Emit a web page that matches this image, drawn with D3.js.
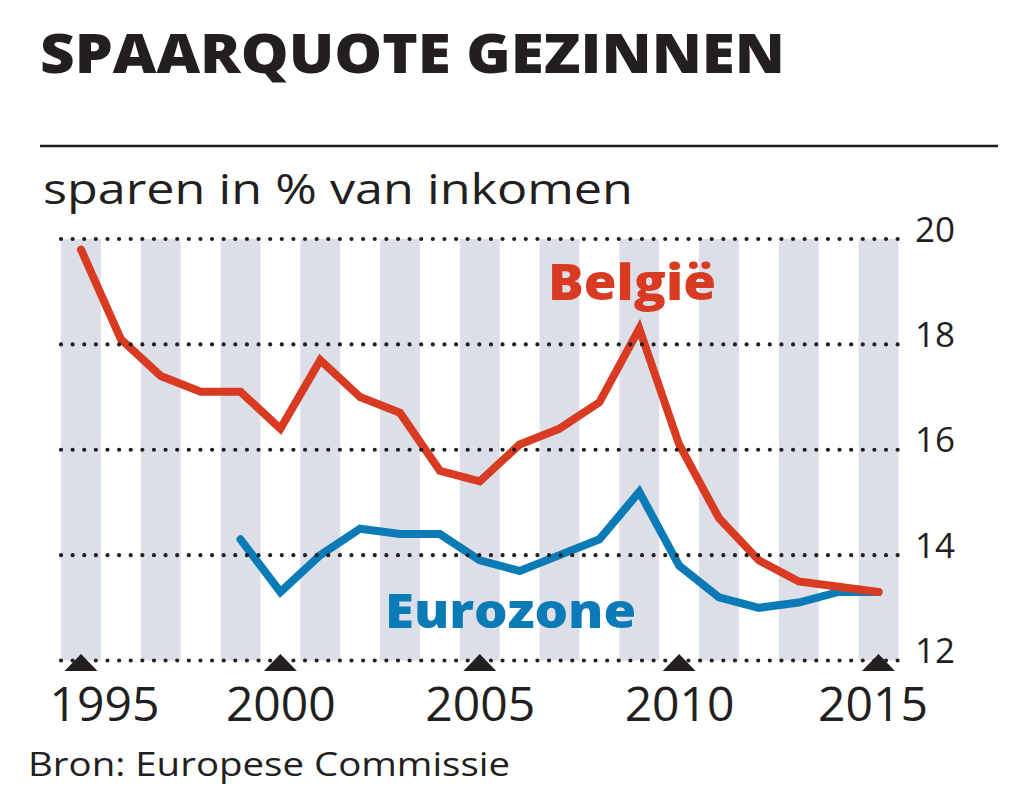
<!DOCTYPE html>
<html>
<head>
<meta charset="utf-8">
<script src="https://cdn.jsdelivr.net/npm/d3@7"></script>
<style>
  html, body { margin: 0; padding: 0; background: #fff; }
  svg { display: block; }
  text { font-family: "Open Sans", Lato, sans-serif; fill: #231f20; }
</style>
</head>
<body>
<svg id="chart" width="1024" height="809"></svg>
<script>
// ---- data ----
const years = d3.range(1995, 2016);
const belgie = [19.8, 18.1, 17.4, 17.1, 17.1, 16.4, 17.7, 17.0, 16.7, 15.6, 15.4, 16.1, 16.4, 16.9, 18.3, 16.1, 14.7, 13.9, 13.5, 13.4, 13.3];
const euroYears = d3.range(1999, 2016);
const eurozone = [14.3, 13.3, 14.0, 14.5, 14.4, 14.4, 13.9, 13.7, 14.0, 14.3, 15.2, 13.8, 13.2, 13.0, 13.1, 13.3, 13.3];
const yTicks = [12, 14, 16, 18, 20];
const xTicks = [1995, 2000, 2005, 2010, 2015];
const stripeYears = d3.range(1995, 2016, 2);
const title = "SPAARQUOTE GEZINNEN";
const subtitle = "sparen in % van inkomen";
const source = "Bron: Europese Commissie";
const labelBE = "België";
const labelEZ = "Eurozone";

// ---- setup ----
const svg = d3.select("#chart");
const x = d3.scaleLinear().domain([1995, 2015]).range([81, 878.5]);
const y = d3.scaleLinear().domain([12, 20]).range([660.5, 239]);
const red = "#d83b22", blue = "#0a7bb7", stripe = "#dcdfe8", ink = "#231f20";

// title
svg.append("text").attr("x", 40).attr("y", 73)
  .attr("font-size", 54).attr("font-weight", 800)
  .attr("textLength", 745).attr("lengthAdjust", "spacingAndGlyphs")
  .text(title);
svg.append("line").attr("x1", 40).attr("x2", 998).attr("y1", 146).attr("y2", 146)
  .attr("stroke", ink).attr("stroke-width", 2.5);
svg.append("text").attr("x", 43).attr("y", 204)
  .attr("font-size", 42)
  .attr("textLength", 590).attr("lengthAdjust", "spacingAndGlyphs")
  .text(subtitle);

// stripes
svg.append("g").selectAll("rect").data(stripeYears).join("rect")
  .attr("x", d => x(d - 0.5)).attr("width", d => x(d + 0.5) - x(d - 0.5))
  .attr("y", y(20)).attr("height", y(12) - y(20))
  .attr("fill", stripe);

// lines
const line = d3.line().x(d => x(d[0])).y(d => y(d[1]));
svg.append("path").datum(euroYears.map((d, i) => [d, eurozone[i]]))
  .attr("d", line).attr("fill", "none").attr("stroke", blue)
  .attr("stroke-width", 8).attr("stroke-linejoin", "miter").attr("stroke-linecap", "round");
svg.append("path").datum(years.map((d, i) => [d, belgie[i]]))
  .attr("d", line).attr("fill", "none").attr("stroke", red)
  .attr("stroke-width", 8).attr("stroke-linejoin", "miter").attr("stroke-linecap", "round");

// dotted gridlines
svg.append("g").selectAll("line").data(yTicks).join("line")
  .attr("x1", 61).attr("x2", 898)
  .attr("y1", d => y(d)).attr("y2", d => y(d))
  .attr("stroke", ink).attr("stroke-width", 4.2)
  .attr("stroke-linecap", "round").attr("stroke-dasharray", "0 11.62");

// y axis labels
const yAxis = svg.append("g").attr("transform", "translate(905,0)")
  .call(d3.axisRight(y).tickValues(yTicks).tickSize(0).tickPadding(10).tickFormat(d3.format("d")));
yAxis.select(".domain").remove();
yAxis.selectAll("text")
  .attr("font-family", "Lato, 'Open Sans', sans-serif")
  .attr("font-size", 35).attr("fill", ink).attr("dy", 2);

// triangles
svg.append("g").selectAll("path").data(xTicks).join("path")
  .attr("d", d => `M${x(d) - 16.5},671 L${x(d)},654 L${x(d) + 16.5},671 Z`)
  .attr("fill", ink);

// x axis labels
const xAxis = svg.append("g").attr("transform", "translate(0,672)")
  .call(d3.axisBottom(x).tickValues(xTicks).tickSize(0).tickPadding(0).tickFormat(d3.format("d")));
xAxis.select(".domain").remove();
xAxis.selectAll("text")
  .attr("font-family", "Lato, 'Open Sans', sans-serif")
  .attr("font-size", 47).attr("fill", ink).attr("dy", 49)
  .attr("textLength", 110).attr("lengthAdjust", "spacingAndGlyphs")
  .attr("dx", (d, i) => i === 0 ? 23 : (i === 4 ? -6 : 0));

// series labels
svg.append("text").attr("x", 548).attr("y", 300)
  .attr("font-size", 50).attr("font-weight", 800).style("fill", red)
  .attr("textLength", 168).attr("lengthAdjust", "spacingAndGlyphs")
  .text(labelBE);
svg.append("text").attr("x", 385).attr("y", 628)
  .attr("font-size", 48).attr("font-weight", 800).style("fill", blue)
  .attr("textLength", 251).attr("lengthAdjust", "spacingAndGlyphs")
  .text(labelEZ);

// source
svg.append("text").attr("x", 28).attr("y", 776)
  .attr("font-size", 32)
  .attr("textLength", 482).attr("lengthAdjust", "spacingAndGlyphs")
  .text(source);
</script>
</body>
</html>
